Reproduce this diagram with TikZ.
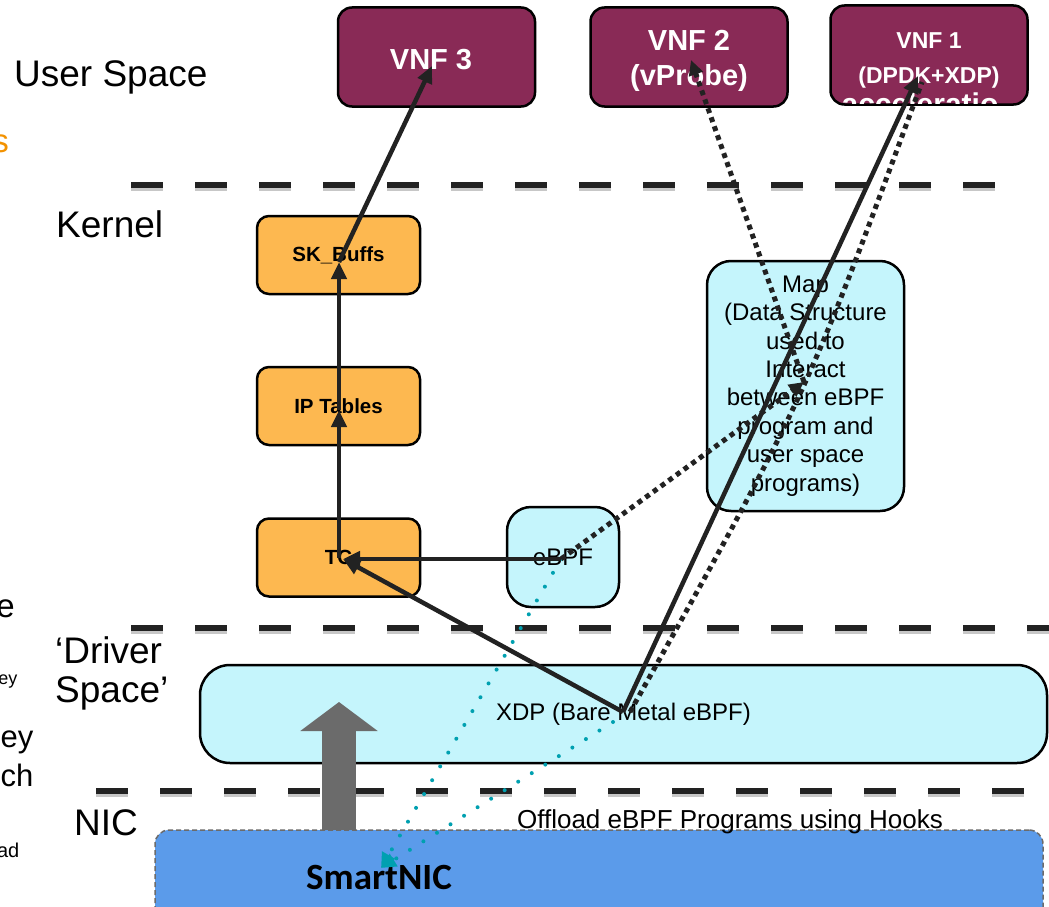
\documentclass[tikz,border=0pt]{standalone}
\usepackage{fontspec}
\setmainfont{Liberation Sans}
\newfontfamily\calib{Carlito}
\usetikzlibrary{arrows.meta}
\definecolor{vnfc}{RGB}{137,42,86}
\definecolor{orc}{RGB}{253,184,80}
\definecolor{cyc}{RGB}{197,245,252}
\definecolor{nicc}{RGB}{91,155,234}
\definecolor{tealc}{RGB}{0,160,176}
\definecolor{inkc}{RGB}{34,34,34}
\definecolor{grayc}{RGB}{107,107,107}
\definecolor{orangetxt}{RGB}{243,146,0}
\newcommand{\fsz}[2]{\fontsize{#1}{#2}\selectfont}
\begin{document}
\begin{tikzpicture}[x=1pt,y=-1pt,
  box/.style={draw=black, line width=2.5pt, inner sep=0pt},
  vnf/.style={box, fill=vnfc, rounded corners=14pt, minimum width=197pt, minimum height=99pt},
  vnftxt/.style={inner sep=0pt, text=white, align=center, font=\fsz{29}{35}\bfseries},
  orng/.style={box, fill=orc, rounded corners=12pt, minimum width=163pt, minimum height=78pt, font=\fsz{20.5}{24}\bfseries},
  cybox/.style={box, fill=cyc, align=center, font=\fsz{24}{28.4}},
  sep/.style={line width=6pt, dash pattern=on 32pt off 32pt, draw=inkc},
  sepsh/.style={line width=6pt, dash pattern=on 32pt off 32pt, draw=black, opacity=0.22},
  arr/.style={line width=4.5pt, draw=inkc, -{Triangle[length=17pt,width=15pt]}},
  dotln/.style={line width=5pt, dash pattern=on 5pt off 4.5pt, draw=inkc},
  dotarr/.style={dotln, -{Triangle[length=15pt,width=14pt]}},
  tealarr/.style={line width=4pt, line cap=round, dash pattern=on 0pt off 16pt, draw=tealc, -{Triangle[length=15pt,width=14pt]}},
  fatarr/.style={line width=34pt, draw=grayc, -{Triangle[length=29pt,width=76pt]}},
  lbl/.style={inner sep=0pt, font=\fsz{37}{39}}
]
\useasboundingbox (0,0) rectangle (1049,907);
\fill[white] (0,0) rectangle (1049,907);

% layer separators
\foreach \y/\a/\b in {185/131/995, 628/131/1060, 791/96/1024} {
  \draw[sepsh] (\a,\y+3) -- (\b,\y+3);
  \draw[sep] (\a,\y) -- (\b,\y);
}

% left labels
\node[lbl, anchor=base west] (us) at (14,86) {User Space};
\node[lbl, anchor=base west] (kern) at (56,237) {Kernel};
\node[lbl, anchor=west, align=left] (drv) at (55,673) {‘Driver\\Space’};
\node[lbl, anchor=base west] (nicl) at (74,835) {NIC};

% cut-off fragments at left edge
\node[inner sep=0pt, anchor=base east, text=orangetxt, font=\fsz{33}{36}] (fs) at (9,152) {s};
\node[inner sep=0pt, anchor=base east, font=\fsz{33}{36}] (fe) at (15,617) {e};
\node[inner sep=0pt, anchor=base east, font=\fsz{18}{20}] (fey1) at (17.5,684) {ey};
\node[inner sep=0pt, anchor=south east, align=right, font=\fsz{31}{39}] (fey2) at (33.5,787.3) {ey\\ch};
\node[inner sep=0pt, anchor=base east, font=\fsz{20}{22}] (fad) at (19.5,857) {ad};

% VNF boxes
\node[vnf] (vnf3) at (436.5,57) {};
\node[vnftxt] (vnf3t) at (431,60) {VNF 3};
\node[vnf] (vnf2) at (689,57) {};
\node[vnftxt] (vnf2t) at (689,61) {VNF 2\\(vProbe)};
\node[vnf] (vnf1) at (929,55) {};
\begin{scope}
  \clip (831.3,6.3) rectangle (1026.7,103.7);
  \node[inner sep=0pt, text=white, font=\fsz{30}{34}\bfseries, anchor=base] (accel) at (920,114) {acceleratio};
\end{scope}
\node[inner sep=0pt, text=white, align=center, font=\fsz{23}{35}\bfseries] (vnf1t) at (929,60.5) {VNF 1\\(DPDK+XDP)};

% kernel boxes
\node[orng] (sk) at (338.5,255) {SK\_Buffs};
\node[orng] (ipt) at (338.5,406) {IP Tables};
\node[orng] (tc) at (338.5,557.5) {TC};
\node[cybox, rounded corners=24pt, minimum width=112pt, minimum height=100pt] (ebpf) at (563,557) {eBPF};
\node[cybox, rounded corners=24pt, minimum width=197pt, minimum height=250pt] (map) at (805.5,386) {Map\\(Data Structure\\used to\\Interact\\between eBPF\\program and\\user space\\programs)};

% driver / NIC
\node[cybox, rounded corners=30pt, minimum width=847pt, minimum height=98pt] (xdp) at (623.5,714) {XDP (Bare Metal eBPF)};
\node[draw=grayc, dash pattern=on 5pt off 3pt, line width=1.5pt, fill=nicc, rounded corners=14pt, minimum width=888pt, minimum height=95pt, inner sep=0pt] (nic) at (599,877.5) {};
\node[inner sep=0pt, font=\calib\fsz{37}{40}\bfseries] (nict) at (379,877) {SmartNIC};
\node[inner sep=0pt, font=\fsz{26}{30}] (offl) at (730,822) {Offload eBPF Programs using Hooks};

% connector end points
\coordinate (tcC) at (339,558);
\coordinate (tcTip) at (343,559);
\coordinate (iptC) at (339,410);
\coordinate (skC) at (339,262);
\coordinate (vnf3P) at (432,66);
\coordinate (ebpfC) at (561,559);
\coordinate (xdpP) at (623,712);
\coordinate (vnf1P) at (918,76);
\coordinate (mapP) at (804,382);
\coordinate (vnf2P) at (691,60);
\coordinate (nicP) at (381,868);
\coordinate (xdpQ) at (613,722);
\coordinate (xdpD) at (630,712);
\coordinate (vnf1Q) at (922,82);
\coordinate (nicA) at (339,830);
\coordinate (xdpA) at (339,702);

% connectors
\draw[fatarr] (nicA) -- (xdpA);
\draw[tealarr] (ebpfC) -- (nicP);
\draw[tealarr] (xdpQ) -- (nicP);
\draw[dotln] (xdpD) .. controls (806,397) .. (vnf1Q);
\draw[dotarr] (ebpfC) -- (mapP);
\draw[dotarr] (mapP) -- (vnf2P);
\draw[arr] (tcC) -- (iptC);
\draw[arr] (iptC) -- (skC);
\draw[arr] (skC) -- (vnf3P);
\draw[arr] (ebpfC) -- (tcTip);
\draw[arr] (xdpP) -- (tcTip);
\draw[arr] (xdpP) -- (vnf1P);
\end{tikzpicture}
\end{document}
